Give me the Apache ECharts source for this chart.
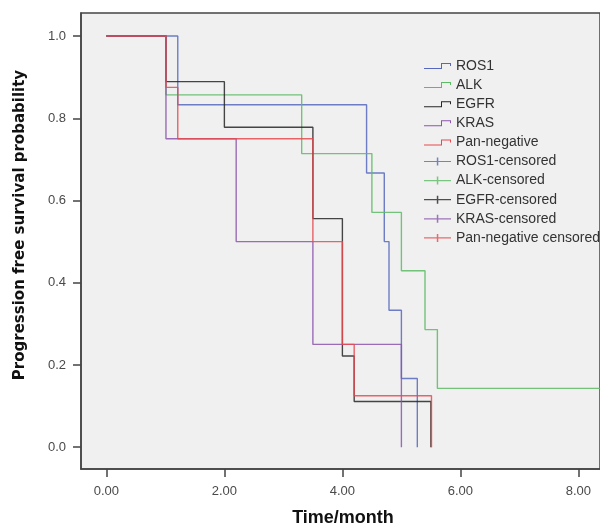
<!DOCTYPE html>
<html>
<head>
<meta charset="utf-8">
<script src="https://cdn.jsdelivr.net/npm/echarts@6/dist/echarts.min.js"></script>
<style>
  html, body { margin: 0; padding: 0; background: #fff; }
  #chart { width: 600px; height: 527px; }
</style>
</head>
<body>
<div id="chart"></div>
<script>
// Kaplan-Meier step data (time in months, survival probability)
const ros1Time = [0, 1.21, 4.41, 4.71, 4.79, 5.0, 5.27];
const ros1Surv = [1, 0.833, 0.667, 0.5, 0.333, 0.167, 0];
const alkTime = [0, 1.01, 3.31, 4.5, 5.0, 5.4, 5.61, 8.6];
const alkSurv = [1, 0.857, 0.714, 0.571, 0.429, 0.286, 0.143, 0.143];
const egfrTime = [0, 1.01, 2.0, 3.5, 4.0, 4.2, 5.5];
const egfrSurv = [1, 0.889, 0.778, 0.556, 0.222, 0.111, 0];
const krasTime = [0, 1.01, 2.2, 3.5, 5.0];
const krasSurv = [1, 0.75, 0.5, 0.25, 0];
const panTime = [0, 1.01, 1.21, 3.5, 4.0, 4.2, 5.51];
const panSurv = [1, 0.875, 0.75, 0.5, 0.25, 0.125, 0];

// no censored marks visible in the plotted range
const ros1Censored = [];
const alkCensored = [];
const egfrCensored = [];
const krasCensored = [];
const panCensored = [];

const xTicks = [0, 2, 4, 6, 8];
const yTicks = [0, 0.2, 0.4, 0.6, 0.8, 1.0];

const curveNames = ["ROS1", "ALK", "EGFR", "KRAS", "Pan-negative"];
const censorNames = ["ROS1-censored", "ALK-censored", "EGFR-censored", "KRAS-censored", "Pan-negative censored"];
const COLORS = ["#5568bd", "#5cbb64", "#262626", "#8a55aa", "#e8494e"];

const curves = [
  [ros1Time, ros1Surv],
  [alkTime, alkSurv],
  [egfrTime, egfrSurv],
  [krasTime, krasSurv],
  [panTime, panSurv],
];
const censored = [ros1Censored, alkCensored, egfrCensored, krasCensored, panCensored];

const STEP_ICON = "path://M0,5 L17,5 L17,0 L27,0 L27,3 L26,3 L26,1 L18,1 L18,6 L0,6 Z";
const CROSS_ICON = "path://M0,3.4 L12.8,3.4 L12.8,0 L14.3,0 L14.3,3.4 L27,3.4 L27,4.6 L14.3,4.6 L14.3,8 L12.8,8 L12.8,4.6 L0,4.6 Z";

const chart = echarts.init(document.getElementById("chart"), null, { renderer: "canvas" });

const labelFont = { fontFamily: "Liberation Sans, Arial, sans-serif", fontSize: 13, color: "#4a4a4a" };

const series = [];
curves.forEach(([t, s], i) => {
  series.push({
    name: curveNames[i],
    type: "line",
    step: "end",
    symbol: "none",
    data: t.map((v, k) => [v, s[k]]),
    lineStyle: { color: COLORS[i], width: 1.4, opacity: 0.85 },
    itemStyle: { color: COLORS[i] },
    animation: false,
    z: 2 + i,
  });
});
censored.forEach((c, i) => {
  series.push({
    name: censorNames[i],
    type: "scatter",
    symbol: CROSS_ICON,
    symbolSize: [10, 10],
    data: c,
    itemStyle: { color: COLORS[i] },
    animation: false,
  });
});

const legendBase = {
  orient: "vertical",
  left: 424,
  itemWidth: 27,
  itemGap: 5.1,
  selectedMode: false,
  textStyle: { fontFamily: "Liberation Sans, Arial, sans-serif", fontSize: 14, color: "#333", lineHeight: 14 },
  padding: 0,
};

const option = {
  backgroundColor: "#fff",
  animation: false,
  grid: {
    left: 81, top: 13, right: -3, bottom: 58,
    show: true,
    backgroundColor: "#f0f0f0",
    borderColor: "#444",
    borderWidth: 1.5,
  },
  legend: [
    Object.assign({}, legendBase, {
      top: 59,
      itemHeight: 6,
      data: curveNames.map((n) => ({ name: n, icon: STEP_ICON })),
    }),
    Object.assign({}, legendBase, {
      top: 154.5,
      itemHeight: 8,
      data: censorNames.map((n) => ({ name: n, icon: CROSS_ICON })),
    }),
  ],
  xAxis: {
    type: "value",
    min: -0.43,
    max: 8.366,
    axisLine: { show: true, onZero: false, lineStyle: { color: "#444", width: 1.5 } },
    axisTick: { show: true, length: 8, customValues: xTicks, lineStyle: { color: "#444", width: 1.5 } },
    axisLabel: Object.assign({ margin: 16, customValues: xTicks, formatter: (v) => v.toFixed(2) }, labelFont),
    splitLine: { show: false },
  },
  yAxis: {
    type: "value",
    min: -0.053,
    max: 1.056,
    axisLine: { show: true, onZero: false, lineStyle: { color: "#444", width: 1.5 } },
    axisTick: { show: true, length: 8, customValues: yTicks, lineStyle: { color: "#444", width: 1.5 } },
    axisLabel: Object.assign({ margin: 15, customValues: yTicks, formatter: (v) => v.toFixed(1) }, labelFont),
    splitLine: { show: false },
  },
  graphic: [
    {
      type: "text",
      x: 20, y: 225,
      rotation: Math.PI / 2,
      style: {
        text: "Progression free survival probability",
        font: "bold 15px DejaVu Sans, sans-serif",
        fill: "#111",
        align: "center",
        verticalAlign: "middle",
      },
    },
    {
      type: "text",
      x: 343, y: 518,
      style: {
        text: "Time/month",
        font: "bold 18px Liberation Sans, Arial, sans-serif",
        fill: "#111",
        align: "center",
        verticalAlign: "middle",
      },
    },
  ],
  series: series,
};

chart.setOption(option);
</script>
</body>
</html>
